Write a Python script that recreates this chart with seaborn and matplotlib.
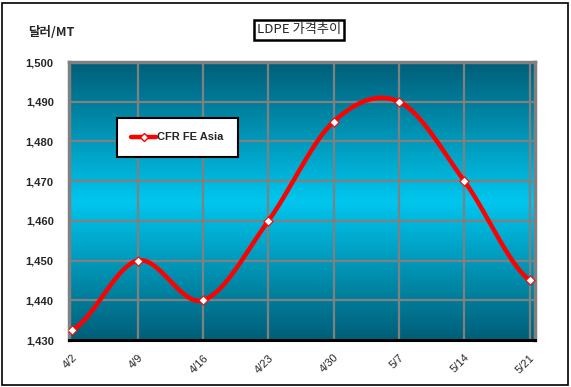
import numpy as np
import pandas as pd
import matplotlib
matplotlib.use("Agg")
import matplotlib.pyplot as plt
import seaborn as sns
from matplotlib.colors import LinearSegmentedColormap
from matplotlib.lines import Line2D
from matplotlib.transforms import ScaledTranslation

dates = ["4/2", "4/9", "4/16", "4/23", "4/30", "5/7", "5/14", "5/21"]
prices = [1432.5, 1450, 1440, 1460, 1485, 1490, 1470, 1445]
series_name = "CFR FE Asia"
yticks = [1430, 1440, 1450, 1460, 1470, 1480, 1490, 1500]

sns.set_theme(style="white")
plt.rcParams['font.family'] = ['Liberation Sans', 'Noto Sans CJK KR', 'DejaVu Sans']

fig = plt.figure(figsize=(5.71, 3.87), dpi=100)
ax = fig.add_axes([69/571, 1-340/387, (535-69)/571, (340-62)/387])

# gradient background
cmap = LinearSegmentedColormap.from_list("g", ["#005e78", "#00c6ee", "#005e78"])
grad = np.linspace(0, 1, 256).reshape(-1, 1)
ax.imshow(grad, aspect="auto", cmap=cmap, extent=[-0.05, 7.08, 1430, 1500],
          origin="lower", zorder=0, interpolation="bicubic")

# smooth curve (Catmull-Rom through data points)
xs = np.arange(len(prices), dtype=float)
ys = np.array(prices, dtype=float)
px = np.concatenate([[2*xs[0]-xs[1]], xs, [2*xs[-1]-xs[-2]]])
py = np.concatenate([[ys[0]], ys, [ys[-1]]])
cx, cy = [], []
t = np.linspace(0, 1, 40)
for i in range(1, len(px)-2):
    p0, p1, p2, p3 = [np.array([px[j], py[j]]) for j in (i-1, i, i+1, i+2)]
    m1 = (p2 - p0) / 2
    m2 = (p3 - p1) / 2
    h00 = 2*t**3 - 3*t**2 + 1
    h10 = t**3 - 2*t**2 + t
    h01 = -2*t**3 + 3*t**2
    h11 = t**3 - t**2
    seg = np.outer(h00, p1) + np.outer(h10, m1) + np.outer(h01, p2) + np.outer(h11, m2)
    cx.extend(seg[:, 0]); cy.extend(seg[:, 1])
curve = pd.DataFrame({"x": cx, "y": cy})
sns.lineplot(data=curve, x="x", y="y", ax=ax, color="#ff0000", linewidth=3.2,
             sort=False, zorder=3, legend=False)
df = pd.DataFrame({"x": xs, "y": ys})
sns.scatterplot(data=df, x="x", y="y", ax=ax, marker="D", s=22, color="white",
                edgecolor="#ff0000", linewidth=0.8, zorder=4, legend=False)

ax.set_xlim(-0.05, 7.08)
ax.set_ylim(1430, 1500)
ax.set_yticks(yticks)
ax.set_yticklabels([f"{v:,}" for v in yticks], fontsize=8, fontweight="bold")
ax.set_xticks(xs)
ax.set_xticklabels(dates, rotation=45, fontsize=8, ha="right", va="top",
                   rotation_mode="anchor")
off = ScaledTranslation(5/72, 0, fig.dpi_scale_trans)
for lab in ax.get_xticklabels():
    lab.set_transform(lab.get_transform() + off)
ax.tick_params(axis="x", pad=9, length=3, color="black", direction="in")
ax.tick_params(axis="y", pad=11, length=0)
ax.set_xlabel(""); ax.set_ylabel("")

for v in yticks[1:-1]:
    ax.axhline(v, color="#808080", lw=1.6, zorder=1)
for xv in xs[1:]:
    ax.axvline(xv, color="#808080", lw=1.6, zorder=1)

for side in ["left", "top", "right"]:
    ax.spines[side].set_color("#808080")
    ax.spines[side].set_linewidth(2.5)
    ax.spines[side].set_visible(True)
ax.spines["bottom"].set_color("black")
ax.spines["bottom"].set_linewidth(2.2)
ax.spines["bottom"].set_visible(True)

# legend
h = Line2D([0], [0], color="#ff0000", lw=3.2, marker="D", markersize=4,
           markerfacecolor="white", markeredgecolor="#ff0000")
leg = ax.legend([h], [series_name], loc="upper left",
                bbox_to_anchor=((117-69)/466, 1-(118-62)/278),
                frameon=True, fancybox=False, framealpha=1, borderpad=1.3,
                handlelength=2.2, handletextpad=0.1, borderaxespad=0,
                prop={"size": 8, "weight": "bold"})
leg.get_frame().set_edgecolor("black")
leg.get_frame().set_linewidth(1.5)
leg.set_zorder(5)

fig.text(299/571, 1-30/387, "LDPE 가격추이", ha="center", va="center", fontsize=9.5,
         family=["Noto Sans CJK KR", "DejaVu Sans"],
         bbox=dict(boxstyle="square,pad=0.25", fc="white", ec="black", lw=1.8))
fig.text(28/571, 1-32/387, "달러/MT", ha="left", va="center", fontsize=9, fontweight="bold",
         family=["Noto Sans CJK KR", "DejaVu Sans"])

fig.patches.append(plt.Rectangle((2/571, 2/387), 1-5/571, 1-5/387, transform=fig.transFigure,
                                 fill=False, ec="black", lw=1.2))
fig.savefig("out.png", dpi=100)
